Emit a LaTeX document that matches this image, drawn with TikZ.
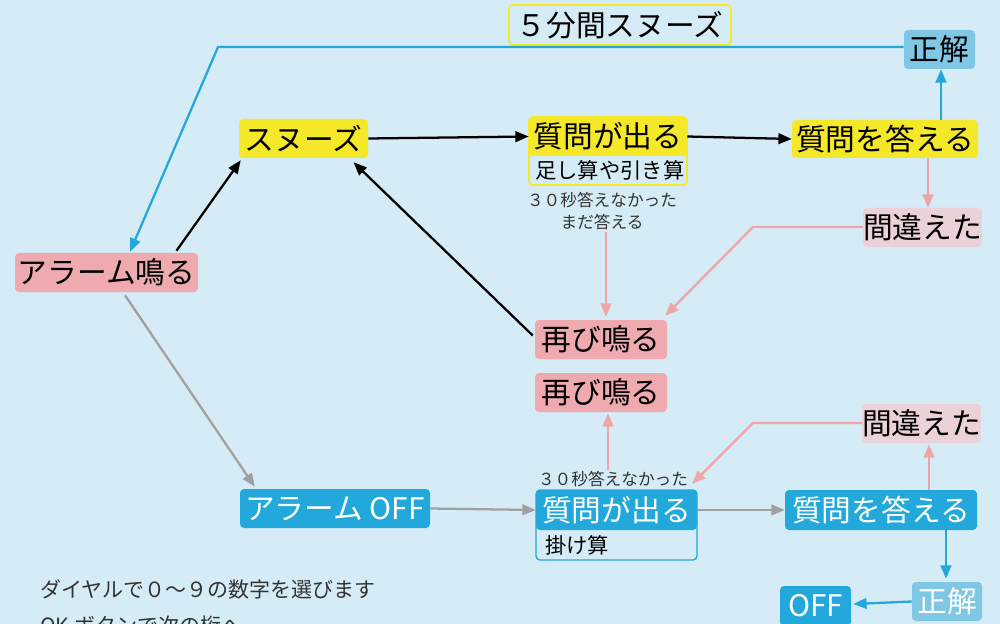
\documentclass[tikz,border=0pt]{standalone}
\usepackage{fontspec}
\setmainfont{Noto Sans CJK JP}
\usetikzlibrary{arrows.meta,calc}
\definecolor{bgc}{HTML}{D5EBF5}
\definecolor{yelc}{HTML}{F5E829}
\definecolor{pnkc}{HTML}{EEAAAE}
\definecolor{lpnkc}{HTML}{EBD1D8}
\definecolor{bluc}{HTML}{22A8DA}
\definecolor{lbluc}{HTML}{7FC7E4}
\definecolor{plinec}{HTML}{EEA5A8}
\definecolor{grayc}{HTML}{A0A0A0}
\definecolor{txtc}{HTML}{333333}
\begin{document}
\begin{tikzpicture}[x=0.75pt,y=-0.75pt,
  box/.style={rounded corners=3pt, inner sep=0pt, font=\fontsize{22.3}{26}\selectfont},
  wh/.style 2 args={minimum width={(#1)*0.75pt}, minimum height={(#2)*0.75pt}},
  yel/.style={box, fill=yelc},
  pnk/.style={box, fill=pnkc},
  lpnk/.style={box, fill=lpnkc},
  blu/.style={box, fill=bluc, text=white},
  lblu/.style={box, fill=lbluc},
  subtxt/.style={inner sep=0pt, anchor=west, font=\fontsize{16}{19}\selectfont},
  lbl/.style={inner sep=0pt, align=center, text=txtc, font=\fontsize{12.5}{16.5}\selectfont},
  note/.style={inner sep=0pt, anchor=west, text=txtc, font=\fontsize{15.75}{19}\selectfont},
  tip/.style={-{Triangle[length=10pt,width=8pt]}},
  ln/.style={line width=1.7pt},
]
\useasboundingbox (0,0) rectangle (1000,624);
\fill[bgc] (0,0) rectangle (1000,624);
\clip (0,0) rectangle (1000,624);

% nodes
\node[box, draw=yelc, fill=bgc, line width=1.2pt, wh={222}{40}] (title) at (620,25) {５分間スヌーズ};
\node[lblu, wh={71}{39}] (ok1) at (939.5,49.5) {正解};
\node[yel, wh={129}{39}] (snz) at (303.5,138.5) {スヌーズ};
\node[box, draw=yelc, fill=bgc, line width=1.2pt, wh={158}{68}] (q1f) at (608,151) {};
\node[yel, wh={158}{39}] (q1) at (608,136.5) {質問が出る};
\node[subtxt] (q1s) at (535,170.5) {足し算や引き算};
\node[yel, wh={186}{38}] (a1) at (885,139) {質問を答える};
\node[lpnk, wh={113}{39}] (w1) at (922.5,227.5) {間違えた};
\node[lbl] (lbl1) at (602,211) {３０秒答えなかった\\まだ答える};
\node[pnk, wh={183}{39}] (alarm) at (106.5,272.5) {アラーム鳴る};
\node[pnk, wh={132}{39}] (r1) at (601,339.5) {再び鳴る};
\node[pnk, wh={132}{39}] (r2) at (601,392.5) {再び鳴る};
\node[lpnk, wh={111}{39}] (w2) at (921.5,423.5) {間違えた};
\node[lbl] (lbl2) at (613,479) {３０秒答えなかった};
\node[blu, wh={190}{39}] (off1) at (335,508.5) {アラーム OFF};
\node[box, draw=bluc, fill=bgc, line width=1pt, wh={161}{70}] (q2f) at (616.5,525) {};
\node[blu, wh={161}{40}] (q2) at (616.5,510) {質問が出る};
\node[subtxt] (q2s) at (545,545) {掛け算};
\node[blu, wh={192}{40}] (a2) at (881,510) {質問を答える};
\node[lblu, text=white, wh={70}{39}] (ok2) at (947,601.5) {正解};
\node[blu, wh={71}{40}] (off2) at (815.5,606) {OFF};
\node[note] (n1) at (40,589) {ダイヤルで０～９の数字を選びます};
\node[note] (n2) at (40,626) {OK ボタンで次の桁へ};

% bend points
\coordinate (bend1) at (218,47);
\coordinate (bend2) at (753,227);
\coordinate (bend3) at (753,423);

% connectors
\draw[ln, bluc, tip] (ok1.west |- bend1) -- (bend1) -- ($(alarm.north)+(23.5,-1)$);
\draw[ln, black, tip] ($(alarm.north)+(70,-2)$) -- ($(snz.south west)+(2,2)$);
\draw[ln, black, tip] (snz.east) -- (q1.west);
\draw[ln, black, tip] (q1.east) -- (a1.west);
\draw[ln, bluc, tip] ($(a1.north)+(56,0)$) -- ($(ok1.south)+(1.5,0)$);
\draw[ln, plinec, tip] ($(a1.south)+(43,0)$) -- ($(w1.north)+(5.5,0)$);
\draw[ln, plinec, tip] (w1.west |- bend2) -- (bend2) -- ($(r1.north east)+(-2,-4)$);
\draw[ln, plinec, tip] ($(lbl1.south)+(4,2)$) -- ($(r1.north)+(5,-3)$);
\draw[ln, black, tip] ($(r1.west)+(-2,-4)$) -- ($(snz.south)+(50,4)$);
\draw[ln, grayc, tip] ($(alarm.south)+(18.5,3)$) -- ($(off1.north west)+(15,-2)$);
\draw[ln, grayc, tip] (off1.east) -- (q2.west);
\draw[ln, grayc, tip] (q2.east) -- (a2.west);
\draw[ln, plinec, tip] ($(a2.north)+(48,0)$) -- ($(w2.south)+(7.5,1)$);
\draw[ln, plinec, tip] (w2.west |- bend3) -- (bend3) -- ($(q2.north east)+(-5,-6)$);
\draw[ln, plinec, tip] ($(lbl2.north)+(-5,-1)$) -- ($(r2.south)+(7,1)$);
\draw[ln, bluc, tip] ($(a2.south)+(65,0)$) -- ($(ok2.north)+(-1,-3)$);
\draw[ln, bluc, tip] (ok2.west) -- ($(off2.east)+(2,-2)$);
\end{tikzpicture}
\end{document}
